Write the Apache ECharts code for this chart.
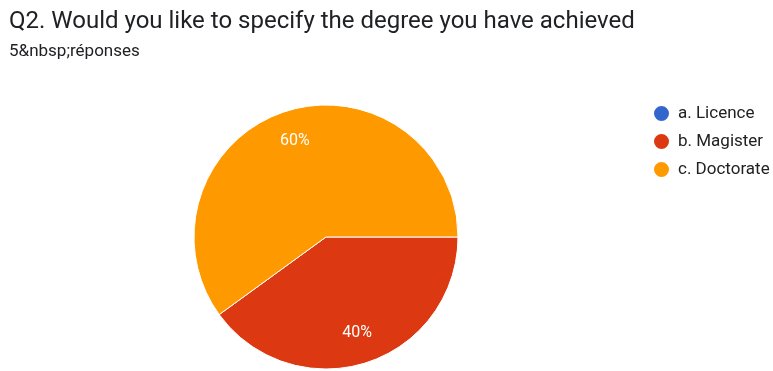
<!DOCTYPE html>
<html>
<head>
<meta charset="utf-8">
<script src="https://cdn.jsdelivr.net/npm/echarts@6/dist/echarts.min.js"></script>
<style>
  html, body { margin: 0; padding: 0; background: #fff; }
  #chart { width: 773px; height: 371px; }
</style>
</head>
<body>
<div id="chart"></div>
<script>
// Degree breakdown of the 5 respondents
const titleText = 'Q2. Would you like to specify the degree you have achieved';
const subtitleText = '5&nbsp;réponses';
const categories = ['a. Licence', 'b. Magister', 'c. Doctorate'];
const counts = [0, 2, 3];
const colors = ['#3366cc', '#dc3912', '#ff9900'];

const FONT = 'Roboto, "Noto Sans", Arial, sans-serif';
const total = counts.reduce((a, b) => a + b, 0);
const pieData = categories.map((name, i) => ({ name, value: counts[i] }));

const chart = echarts.init(document.getElementById('chart'));
chart.setOption({
  animation: false,
  color: colors,
  title: [
    {
      text: titleText,
      left: 4, top: 5,
      textStyle: { fontFamily: FONT, fontSize: 24, fontWeight: 'normal', color: '#202124' }
    },
    {
      text: subtitleText,
      left: 4, top: 38,
      textStyle: { fontFamily: FONT, fontSize: 17, fontWeight: 'normal', color: '#202124' }
    }
  ],
  legend: {
    orient: 'vertical',
    left: 647, top: 99,
    itemGap: 9,
    itemWidth: 17, itemHeight: 17,
    icon: 'circle',
    data: categories,
    textStyle: { fontFamily: FONT, fontSize: 17, color: '#222', padding: [0, 0, 0, 3] }
  },
  series: [
    {
      type: 'pie',
      center: [326, 237],
      radius: [0, 132],
      startAngle: 0,
      clockwise: true,
      data: pieData,
      itemStyle: { borderColor: '#fff', borderWidth: 1 },
      label: { show: false },
      labelLine: { show: false },
      emphasis: { disabled: true }
    },
    {
      // transparent ring that only carries the percentage labels at 3/4 radius
      type: 'pie',
      center: [326, 237],
      radius: [64, 132],
      startAngle: 0,
      clockwise: true,
      silent: true,
      data: pieData,
      itemStyle: { color: 'rgba(0,0,0,0)' },
      label: {
        show: true,
        position: 'inside',
        fontFamily: FONT,
        fontSize: 16,
        color: '#fff',
        formatter: p => p.value ? Math.round(p.value / total * 100) + '%' : ''
      },
      labelLine: { show: false },
      emphasis: { disabled: true }
    }
  ]
});
</script>
</body>
</html>
